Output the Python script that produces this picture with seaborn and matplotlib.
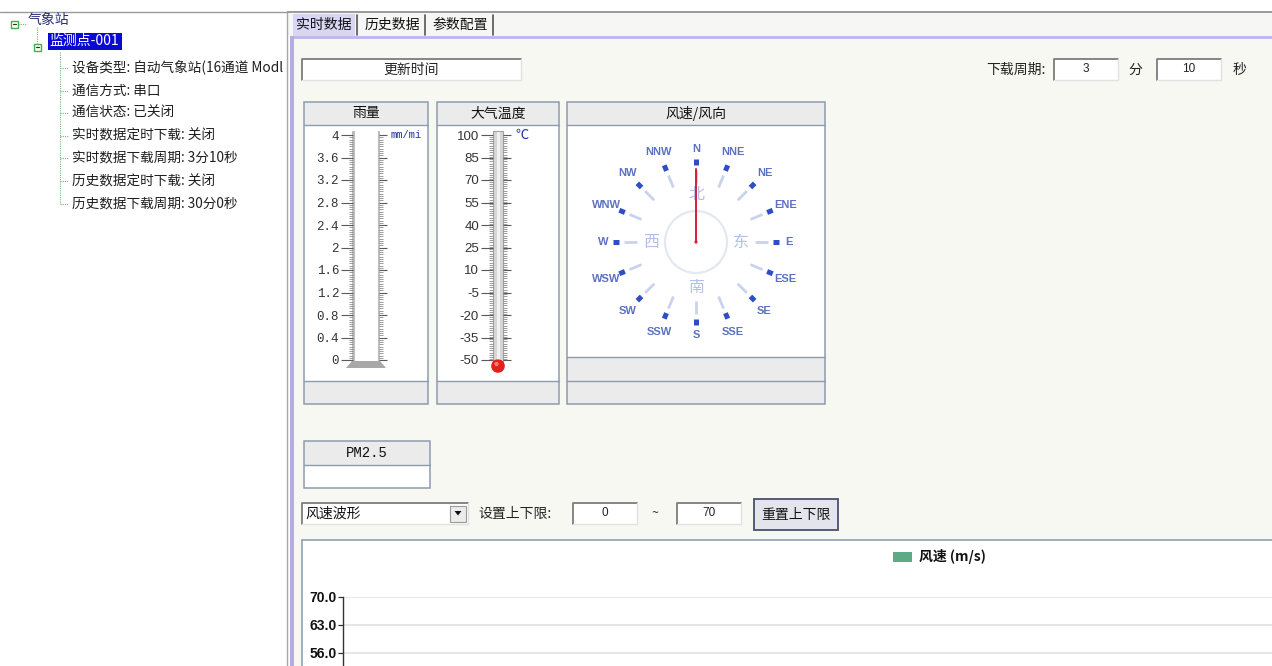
import numpy as np
import pandas as pd
import matplotlib
matplotlib.use("Agg")
import matplotlib.pyplot as plt
import seaborn as sns
from matplotlib.patches import Rectangle, Circle, Polygon
from matplotlib import font_manager
from matplotlib.ticker import FixedLocator, FixedFormatter, MultipleLocator

# ---------------- data ----------------
tree_root = "气象站"
tree_node = "监测点-001"
tree_items = ["设备类型: 自动气象站(16通道 Modl", "通信方式: 串口", "通信状态: 已关闭",
              "实时数据定时下载: 关闭", "实时数据下载周期: 3分10秒",
              "历史数据定时下载: 关闭", "历史数据下载周期: 30分0秒"]
tabs = ["实时数据", "历史数据", "参数配置"]
update_label = "更新时间"
period_label = "下载周期:"
period_min = "3"
period_min_unit = "分"
period_sec = "10"
period_sec_unit = "秒"
panel_titles = ["雨量", "大气温度", "风速/风向"]
rain_ticks = [0, 0.4, 0.8, 1.2, 1.6, 2, 2.4, 2.8, 3.2, 3.6, 4]
rain_tick_labels = ["0", "0.4", "0.8", "1.2", "1.6", "2", "2.4", "2.8", "3.2", "3.6", "4"]
rain_value = 0.0
rain_unit = "mm/mi"
temp_ticks = [-50, -35, -20, -5, 10, 25, 40, 55, 70, 85, 100]
temp_tick_labels = ["-50", "-35", "-20", "-5", "10", "25", "40", "55", "70", "85", "100"]
temp_value = -50
temp_unit = "℃"
dir_labels = ["N", "NNE", "NE", "ENE", "E", "ESE", "SE", "SSE",
              "S", "SSW", "SW", "WSW", "W", "WNW", "NW", "NNW"]
dir_angles = [0, 22.5, 45, 67.5, 90, 112.5, 135, 157.5,
              180, 202.5, 225, 247.5, 270, 292.5, 315, 337.5]
cn_dirs = ["北", "东", "南", "西"]
cn_angles = [0, 90, 180, 270]
wind_dir_value = 0
pm_label = "PM2.5"
wave_option = "风速波形"
limit_label = "设置上下限:"
lower_limit = "0"
upper_limit = "70"
tilde = "~"
reset_label = "重置上下限"
series_name = "风速 (m/s)"
speed_ticks = [0, 7, 14, 21, 28, 35, 42, 49, 56, 63, 70]
speed_times = []
speed_values = []

# ---------------- style ----------------
sns.set_theme(style="white")
plt.rcParams["font.family"] = ["Noto Sans CJK SC", "DejaVu Sans"]
plt.rcParams["axes.unicode_minus"] = False
_names = {f.name for f in font_manager.fontManager.ttflist}
NARROW = "Liberation Sans Narrow" if "Liberation Sans Narrow" in _names else "Liberation Sans"
MONO = "Liberation Mono" if "Liberation Mono" in _names else "DejaVu Sans Mono"
SANS = "Liberation Sans" if "Liberation Sans" in _names else "DejaVu Sans"
CJK = ["Noto Sans CJK SC", "DejaVu Sans"]

W, H = 1272, 666
fig = plt.figure(figsize=(W / 100, H / 100), dpi=100)
ui = fig.add_axes([0, 0, 1, 1], zorder=0)
ui.set_xlim(0, W)
ui.set_ylim(H, 0)
ui.axis("off")


def px_axes(x0, y0, x1, y1, z=2):
    ax = fig.add_axes([x0 / W, 1 - y1 / H, (x1 - x0) / W, (y1 - y0) / H], zorder=z)
    ax.patch.set_alpha(0)
    return ax


def rect(x0, y0, x1, y1, fc, ec="none", lw=1, z=1):
    ui.add_patch(Rectangle((x0, y0), x1 - x0, y1 - y0, fc=fc, ec=ec, lw=lw, zorder=z))


def sunken(x0, y0, x1, y1, text=None, fs=9, family=None):
    rect(x0, y0, x1, y1, "white", z=2)
    ui.plot([x0, x0, x1], [y1, y0, y0], color="#7c7c7c", lw=1.3, zorder=3)
    ui.plot([x0, x1, x1], [y1, y1, y0], color="#e2e2e2", lw=1, zorder=3)
    if text is not None:
        ui.text((x0 + x1) / 2, (y0 + y1) / 2, text, ha="center", va="center",
                fontsize=fs, color="#222", zorder=4, family=family or CJK)


# ---------------- left tree panel ----------------
rect(0, 0, W, H, "white", z=0)
ui.plot([0, 286], [11.5, 11.5], color="#9a9a9a", lw=1, zorder=2)
ui.plot([286.5, 286.5], [11, H], color="#a8a8a8", lw=1, zorder=2)

green = "#3fae45"
dot = "#7ab77a"
rect(10.5, 20.5, 17.5, 27.5, "white", ec=green, lw=1, z=3)
ui.plot([12.5, 15.5], [24, 24], color="#333", lw=0.9, zorder=4)
ui.plot([18, 26], [24, 24], color=dot, lw=0.8, ls=(0, (1, 1)), zorder=2)
ui.text(28, 19.5, tree_root, ha="left", va="center", fontsize=10, color="#27307a", zorder=4)
ui.plot([37, 37], [27, 43], color=dot, lw=0.8, ls=(0, (1, 1)), zorder=2)
rect(33.5, 43.5, 40.5, 50.5, "white", ec=green, lw=1, z=3)
ui.plot([35.5, 38.5], [47, 47], color="#333", lw=0.9, zorder=4)
rect(48, 33, 122, 50, "#0a0ad2", z=2)
ui.text(49, 41, tree_node, ha="left", va="center", fontsize=10, color="white", zorder=4)
item_y = [68 + 22.6 * i for i in range(len(tree_items))]
ui.plot([60, 60], [52, item_y[-1]], color=dot, lw=0.8, ls=(0, (1, 1)), zorder=2)
for yy, t in zip(item_y, tree_items):
    ui.plot([60, 68], [yy, yy], color=dot, lw=0.8, ls=(0, (1, 1)), zorder=2)
    txt = ui.text(72, yy, t, ha="left", va="center", fontsize=9.8, color="#1e1e1e", zorder=4)
    txt.set_clip_path(Rectangle((0, 0), 284, H, transform=ui.transData))

# ---------------- right panel frame ----------------
rect(288, 12, W, 36, "#f6f6f4", z=1)
ui.plot([288, W], [12, 12], color="#8a8a8a", lw=1.2, zorder=2)
rect(293, 38, W, H, "#f8f8f2", z=1)
rect(290, 35.5, W, 38.5, "#c1b9ee", z=2)
rect(290, 35.5, 293.5, H, "#b4ace2", z=2)
rect(293, 14, 355, 36, "#d9d5f4", z=2)
tab_cx = [324, 392, 460]
for cx, t in zip(tab_cx, tabs):
    ui.text(cx, 25, t, ha="center", va="center", fontsize=10, color="#111", zorder=4)
for sx in [357, 425, 493]:
    ui.plot([sx, sx], [15, 35], color="#555", lw=1.2, zorder=3)

# update time + period
sunken(302, 59, 521, 80, update_label, fs=10)
ui.text(1046, 70, period_label, ha="right", va="center", fontsize=10, color="#222", zorder=4)
sunken(1054, 59, 1118, 80, period_min, fs=8.5, family=SANS)
ui.text(1135, 70, period_min_unit, ha="center", va="center", fontsize=10, color="#222", zorder=4)
sunken(1157, 59, 1221, 80, period_sec, fs=8.5, family=SANS)
ui.text(1240, 70, period_sec_unit, ha="center", va="center", fontsize=10, color="#222", zorder=4)

# ---------------- instrument panels ----------------
border = "#8e9cad"
head = "#ebebeb"


def panel(x0, x1, y0, y_head, y_body, rows, title, title_family=None):
    rect(x0, y0, x1, y_head, head, z=2)
    rect(x0, y_head, x1, y_body, "white", z=2)
    prev = y_body
    for r in rows:
        rect(x0, prev, x1, r, head, z=2)
        ui.plot([x0, x1], [prev, prev], color=border, lw=1, zorder=3)
        prev = r
    ui.add_patch(Rectangle((x0, y0), x1 - x0, prev - y0, fc="none", ec=border, lw=1.1, zorder=3))
    ui.plot([x0, x1], [y_head, y_head], color=border, lw=1, zorder=3)
    ui.text((x0 + x1) / 2, (y0 + y_head) / 2, title, ha="center", va="center",
            fontsize=10, color="#111", zorder=4, family=title_family or CJK)


panel(304, 428, 102, 125, 381, [404], panel_titles[0])
panel(437, 559, 102, 125, 381, [404], panel_titles[1])
panel(567, 825, 102, 125, 357, [381, 404], panel_titles[2])
panel(304, 430, 441, 465, 488, [], pm_label, title_family=MONO)

# thermometer scales
TOP, BOT = 135, 360


def scale_axes(x0, x1, lo, hi, ticks, labels, step_minor, label_font, fs):
    ax = px_axes(x0, TOP, x1, BOT, z=5)
    ax.set_ylim(lo, hi)
    ax.set_xlim(0, 1)
    ax.set_xticks([])
    for s in ax.spines.values():
        s.set_visible(False)
    ax.yaxis.set_major_locator(FixedLocator(ticks))
    ax.yaxis.set_major_formatter(FixedFormatter(labels))
    ax.yaxis.set_minor_locator(MultipleLocator(step_minor))
    ax.tick_params(axis="y", which="major", left=True, right=True, direction="out",
                   length=8.5, width=0.8, color="#5a5a5a", pad=1.5,
                   labelsize=fs, labelcolor="#333")
    ax.tick_params(axis="y", which="minor", left=True, right=True, direction="out",
                   length=3.2, width=0.6, color="#8c8c8c")
    for tl in ax.get_yticklabels():
        tl.set_family(label_font)
    for tl in ax.yaxis.get_major_ticks():
        tl.tick2line.set_markersize(6)
    return ax


ax_rain = scale_axes(353, 379, 0, 4, rain_ticks, rain_tick_labels, 0.04, MONO, 9)
ax_temp = scale_axes(493, 503, -50, 100, temp_ticks, temp_tick_labels, 1.5, SANS, 9.5)

# rain tube
rect(352, 131, 354.5, 362, "#bdbdbd", z=4)
rect(377.5, 131, 380, 362, "#bdbdbd", z=4)
ui.add_patch(Polygon([(352, 361), (380, 361), (386, 368), (346, 368)], closed=True,
                     fc="#a8a8a8", ec="none", zorder=4))
ax_rain.bar([0.5], [rain_value], width=0.9, bottom=0, color="#4a7fd0")
ui.text(391, 135, rain_unit, ha="left", va="center", fontsize=7.5, color="#1f2fa0",
        family=MONO, zorder=4)

# temperature tube
ui.add_patch(Rectangle((493, 131), 10, 232, fc="#d6d6d6", ec="#a2a2a2", lw=0.8, zorder=4))
rect(496.5, 132, 499.5, 362, "#f2f2f2", z=4)
ax_temp.bar([0.5], [temp_value - (-50)], width=0.5, bottom=-50, color="#e0201c")
ui.add_patch(Circle((498, 366), 6.8, fc="#e41f1c", ec="none", zorder=5))
ui.add_patch(Circle((496.5, 364), 2.2, fc="#f57a70", ec="none", zorder=6))
ui.text(515, 135, temp_unit, ha="left", va="center", fontsize=9.5, color="#1f2fa0", zorder=4)

# compass
CX, CY = 696, 242


def pol(r, a):
    t = np.deg2rad(a)
    return CX + r * np.sin(t), CY - r * np.cos(t)


ui.add_patch(Circle((CX, CY), 31, fc="none", ec="#e3e8f1", lw=1.6, zorder=4))
for i, (lab, a) in enumerate(zip(dir_labels, dir_angles)):
    p0, p1 = pol(59, a), pol(72, a)
    ui.plot([p0[0], p1[0]], [p0[1], p1[1]], color="#c9d3eb", lw=2, zorder=4,
            solid_capstyle="butt")
    m0, m1 = pol(77, a), pol(83, a)
    ui.plot([m0[0], m1[0]], [m0[1], m1[1]], color="#2f4dc6", lw=3.6, zorder=5,
            solid_capstyle="butt")
    rl = 93 if i % 4 == 0 else 97
    lx, ly = pol(rl, a)
    ui.text(lx, ly, lab, ha="center", va="center", fontsize=8, color="#5d71c2",
            family=NARROW, fontweight="bold", zorder=5)
for lab, a in zip(cn_dirs, cn_angles):
    lx, ly = pol(47 if a == 0 else 45, a)
    ui.text(lx, ly, lab, ha="center", va="center", fontsize=11.5, color="#b3c1e6", zorder=5)
n0 = pol(73, wind_dir_value)
ui.plot([CX, n0[0]], [CY, n0[1]], color="#d21f3c", lw=1.4, zorder=6)
ui.add_patch(Circle((CX, CY), 1.6, fc="#d21f3c", ec="none", zorder=6))

# ---------------- waveform controls ----------------
sunken(302, 503, 468, 524)
ui.text(305, 513.5, wave_option, ha="left", va="center", fontsize=10, color="#111", zorder=4)
rect(450, 506, 466, 521.5, "#ececec", ec="#9a9a9a", lw=0.8, z=4)
ui.add_patch(Polygon([(454.5, 511), (461.5, 511), (458, 515.5)], closed=True,
                     fc="#111", ec="none", zorder=5))
ui.text(478, 513.5, limit_label, ha="left", va="center", fontsize=10, color="#222", zorder=4)
sunken(573, 503, 637, 524, lower_limit, fs=8.5, family=SANS)
ui.text(655, 514, tilde, ha="center", va="center", fontsize=9, color="#333", zorder=4)
sunken(677, 503, 741, 524, upper_limit, fs=8.5, family=SANS)
ui.add_patch(Rectangle((754, 499), 84, 31, fc="#e4e4ec", ec="#4c4f6e", lw=1.3, zorder=4))
ui.text(796, 514.5, reset_label, ha="center", va="center", fontsize=10, color="#111", zorder=5)

# ---------------- wind speed chart ----------------
rect(302, 540, W, H, "white", z=2)
ui.plot([302, W], [540, 540], color="#8fa2b2", lw=1.2, zorder=3)
ui.plot([302, 302], [540, H], color="#8fa2b2", lw=1.2, zorder=3)
rect(893, 552, 912, 562, "#5dab84", z=4)
ui.text(919, 557, series_name, ha="left", va="center", fontsize=10, fontweight="bold",
        color="#111", zorder=4)

# visible window of the chart: 4 px per m/s, top at 70
ax_c = px_axes(343, 597, W + 2, H, z=3)
df = pd.DataFrame({"time": pd.Series(speed_times, dtype=float),
                   "speed": pd.Series(speed_values, dtype=float)})
try:
    sns.lineplot(data=df, x="time", y="speed", ax=ax_c, color="#5dab84")
except Exception:
    pass
ax_c.set_xlim(0, 1)
ax_c.set_ylim(70 - (H - 597) / 4.0, 70)
ax_c.set_xlabel("")
ax_c.set_ylabel("")
ax_c.set_xticks([])
ax_c.yaxis.set_major_locator(FixedLocator(speed_ticks))
ax_c.yaxis.set_major_formatter(FixedFormatter([f"{v:.1f}" for v in speed_ticks]))
for tl in ax_c.get_yticklabels():
    tl.set_family(NARROW)
    tl.set_fontweight("bold")
    tl.set_fontsize(10)
    tl.set_color("#111")
ax_c.grid(axis="y", color="#e2e2e2", lw=1.2)
ax_c.grid(axis="x", visible=False)
for k in ["top", "right", "bottom"]:
    ax_c.spines[k].set_visible(False)
ax_c.spines["left"].set_color("#333")
ax_c.spines["left"].set_linewidth(1)
ax_c.tick_params(axis="y", left=True, direction="out", length=3.5, width=0.9,
                 color="#333", pad=1)

fig.savefig("out.png", dpi=100)
